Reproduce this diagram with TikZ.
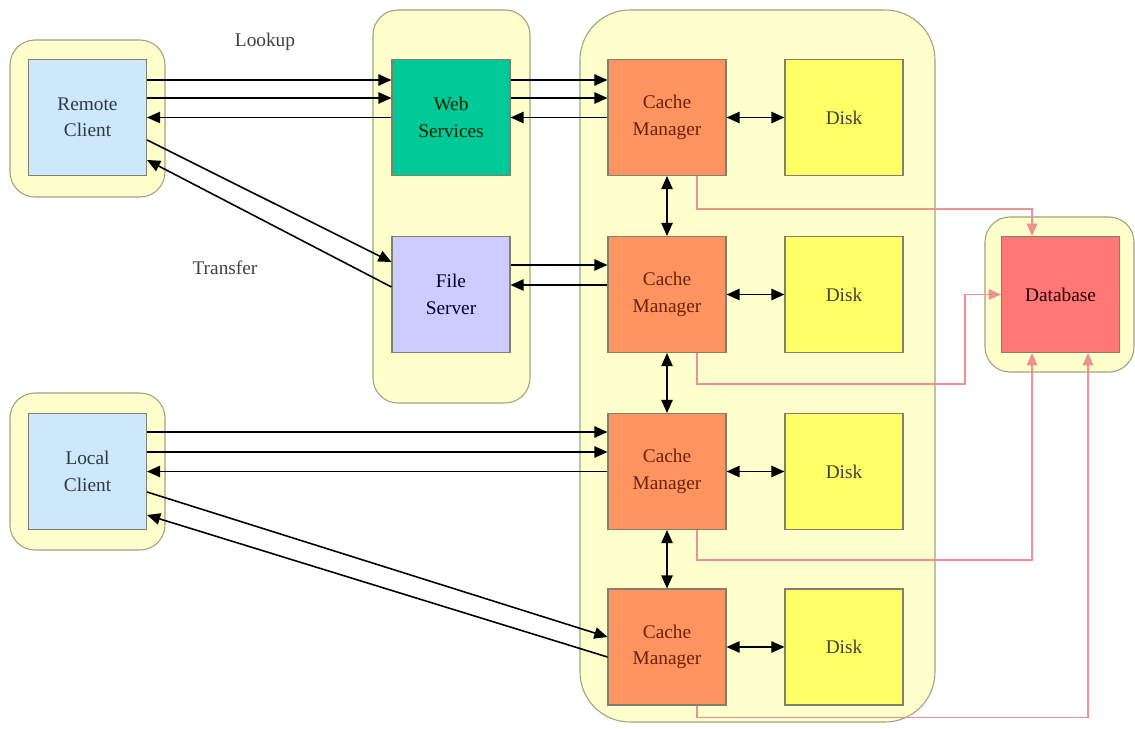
\documentclass[tikz,border=0pt]{standalone}
\usepackage{fontspec}
\setmainfont{Liberation Serif}
\usetikzlibrary{arrows.meta}

\definecolor{groupfill}{HTML}{FFFFCC}
\definecolor{groupline}{HTML}{A0A080}
\definecolor{boxline}{HTML}{808070}
\definecolor{clientfill}{HTML}{CCE8FA}
\definecolor{clienttext}{HTML}{2E3A48}
\definecolor{webfill}{HTML}{00C896}
\definecolor{filefill}{HTML}{CCCCFF}
\definecolor{cachefill}{HTML}{FF9460}
\definecolor{cachetext}{HTML}{6A2208}
\definecolor{diskfill}{HTML}{FFFF66}
\definecolor{dbfill}{HTML}{FF7777}
\definecolor{dbline}{HTML}{F09090}

\tikzset{
  group/.style={draw=groupline, fill=groupfill, line width=0.6pt, rounded corners=0.5cm},
  box/.style={draw=boxline, line width=0.6pt, minimum width=2.36cm, minimum height=2.32cm,
    inner sep=0pt, align=center, font=\fontsize{11}{15}\selectfont},
  tag/.style={text=black!75, font=\fontsize{11}{13}\selectfont},
  link/.style={line width=0.9pt, -{Triangle[length=7.5pt,width=6.5pt]}},
  both/.style={line width=0.9pt, {Triangle[length=7.5pt,width=6.5pt]}-{Triangle[length=7.5pt,width=6.5pt]}},
  dblink/.style={draw=dbline, line width=0.7pt, -{Triangle[length=7pt,width=6pt]}, color=dbline},
}

\begin{document}
\begin{tikzpicture}[x=0.02cm,y=-0.02cm]
  \useasboundingbox (0,0) rectangle (1135,729);

  % Drawing the yellow groups
  \draw[group] (10,40) rectangle (165,197);
  \draw[group] (10,393) rectangle (165,550);
  \draw[group] (373,10) rectangle (530,403);
  \draw[group, rounded corners=1cm] (580,10) rectangle (935,722);
  \draw[group] (985,217) rectangle (1134,372);

  % Clients and front end
  \node[box, fill=clientfill, text=clienttext] (rc) at (87.5,117.5) {Remote\\Client};
  \node[box, fill=clientfill, text=clienttext] (lc) at (87.5,471.5) {Local\\Client};
  \node[box, fill=webfill, text=black!85!green] (ws) at (451,117.5) {Web\\Services};
  \node[box, fill=filefill, text=black!85!blue] (fs) at (451,294.5) {File\\Server};

  % Cache managers and disks
  \node[box, fill=cachefill, text=cachetext] (cm1) at (667,117.5) {Cache\\Manager};
  \node[box, fill=cachefill, text=cachetext] (cm2) at (667,294.5) {Cache\\Manager};
  \node[box, fill=cachefill, text=cachetext] (cm3) at (667,471.5) {Cache\\Manager};
  \node[box, fill=cachefill, text=cachetext] (cm4) at (667,647) {Cache\\Manager};
  \node[box, fill=diskfill, text=black!85!yellow] (dk1) at (844,117.5) {Disk};
  \node[box, fill=diskfill, text=black!85!yellow] (dk2) at (844,294.5) {Disk};
  \node[box, fill=diskfill, text=black!85!yellow] (dk3) at (844,471.5) {Disk};
  \node[box, fill=diskfill, text=black!85!yellow] (dk4) at (844,647) {Disk};

  % Database
  \node[box, fill=dbfill, text=black!85!red] (db) at (1060.5,294.5) {Database};

  % Labels
  \node[tag] (lookup) at (265,42) {Lookup};
  \node[tag] (transfer) at (225,268) {Transfer};

  % Lookup path
  \draw[link] ([yshift=0.75cm]rc.east) -- ([yshift=0.75cm]ws.west);
  \draw[link] ([yshift=0.39cm]rc.east) -- ([yshift=0.39cm]ws.west);
  \draw[link] (ws.west) -- (rc.east);
  \draw[link] ([yshift=0.75cm]ws.east) -- ([yshift=0.75cm]cm1.west);
  \draw[link] ([yshift=0.39cm]ws.east) -- ([yshift=0.39cm]cm1.west);
  \draw[link] (cm1.west) -- (ws.east);

  % Transfer path
  \draw[link] ([yshift=-0.45cm]rc.east) -- ([yshift=0.65cm]fs.west);
  \draw[link] ([yshift=0.15cm]fs.west) -- ([yshift=-0.85cm]rc.east);
  \draw[link] ([yshift=0.59cm]fs.east) -- ([yshift=0.59cm]cm2.west);
  \draw[link] ([yshift=0.19cm]cm2.west) -- ([yshift=0.19cm]fs.east);

  % Local client
  \draw[link] ([yshift=0.79cm]lc.east) -- ([yshift=0.79cm]cm3.west);
  \draw[link] ([yshift=0.39cm]lc.east) -- ([yshift=0.39cm]cm3.west);
  \draw[link] (cm3.west) -- (lc.east);
  \draw[link] ([yshift=-0.41cm]lc.east) -- ([yshift=0.2cm]cm4.west);
  \draw[link] ([yshift=-0.2cm]cm4.west) -- ([yshift=-0.87cm]lc.east);

  % Cache manager to disk and to each other
  \foreach \i in {1,...,4} {
    \draw[both] (cm\i.east) -- (dk\i.west);
  }
  \draw[both] (cm1.south) -- (cm2.north);
  \draw[both] (cm2.south) -- (cm3.north);
  \draw[both] (cm3.south) -- (cm4.north);

  % Cache managers to database
  \draw[dblink] ([xshift=0.6cm]cm1.south) -- ++(0,33) -| ([xshift=-0.57cm]db.north);
  \draw[dblink] ([xshift=0.6cm]cm2.south) -- ++(0,31) -- ++(268,0) |- (db.west);
  \draw[dblink] ([xshift=0.6cm]cm3.south) -- ++(0,30) -| ([xshift=-0.57cm]db.south);
  \draw[dblink] ([xshift=0.6cm]cm4.south) -- ++(0,12) -| ([xshift=0.55cm]db.south);
\end{tikzpicture}
\end{document}
